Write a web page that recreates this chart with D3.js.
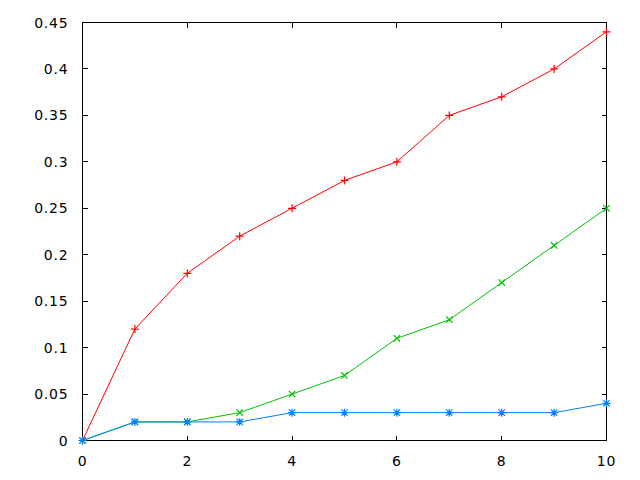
<!DOCTYPE html>
<html><head><meta charset="utf-8">
<script src="https://cdn.jsdelivr.net/npm/d3@7"></script>
<style>body{margin:0;background:#fff}svg{display:block}</style>
</head><body>
<script>
const xValues = [0,1,2,3,4,5,6,7,8,9,10];
const redValues = [0,0.12,0.18,0.22,0.25,0.28,0.30,0.35,0.37,0.40,0.44];
const greenValues = [0,0.02,0.02,0.03,0.05,0.07,0.11,0.13,0.17,0.21,0.25];
const blueValues = [0,0.02,0.02,0.02,0.03,0.03,0.03,0.03,0.03,0.03,0.04];
const xTicks = [0,2,4,6,8,10];
const yTicks = [0,0.05,0.1,0.15,0.2,0.25,0.3,0.35,0.4,0.45];
const yTickLabels = ["0","0.05","0.1","0.15","0.2","0.25","0.3","0.35","0.4","0.45"];

const W=640,H=480;
const L=82.5,R=606.5,T=22.5,B=440.5;
const svg=d3.select("body").append("svg").attr("width",W).attr("height",H);
const x=d3.scaleLinear().domain([0,10]).range([L,R]);
const y=d3.scaleLinear().domain([0,0.45]).range([B,T]);
const font="DejaVu Sans, sans-serif";
const tl=5;

// ticks
const g=svg.append("g").attr("stroke","#000").attr("stroke-width",1).attr("shape-rendering","crispEdges");
yTicks.forEach(v=>{
  g.append("line").attr("x1",L).attr("x2",L+tl).attr("y1",y(v)).attr("y2",y(v));
  g.append("line").attr("x1",R).attr("x2",R-tl).attr("y1",y(v)).attr("y2",y(v));
});
xTicks.forEach(v=>{
  g.append("line").attr("x1",x(v)).attr("x2",x(v)).attr("y1",B).attr("y2",B-tl);
  g.append("line").attr("x1",x(v)).attr("x2",x(v)).attr("y1",T).attr("y2",T+tl);
});
g.append("rect").attr("x",L).attr("y",T).attr("width",R-L).attr("height",B-T).attr("fill","none");

// labels
yTicks.forEach((v,i)=>{
  svg.append("text").attr("x",L-14).attr("y",y(v)).attr("dy","0.36em")
    .attr("text-anchor","end").attr("font-family",font).attr("font-size",14)
    .attr("letter-spacing","0.8px").text(yTickLabels[i]);
});
xTicks.forEach(v=>{
  svg.append("text").attr("x",x(v)).attr("y",466)
    .attr("text-anchor","middle").attr("font-family",font).attr("font-size",14)
    .attr("letter-spacing","0.8px").text(String(v));
});

const line=d3.line().x((d,i)=>x(xValues[i])).y(d=>y(d));
const s=4;
function drawSeries(vals,color,type){
  svg.append("path").datum(vals).attr("d",line).attr("fill","none").attr("stroke",color).attr("stroke-width",1);
  const mg=svg.append("g").attr("stroke",color).attr("stroke-width",1.2);
  vals.forEach((v,i)=>{
    const cx=x(xValues[i]),cy=y(v);
    let d="";
    if(type==="plus"||type==="star") d+=`M${cx-s},${cy}H${cx+s}M${cx},${cy-s}V${cy+s}`;
    if(type==="cross"||type==="star") d+=`M${cx-s*0.8},${cy-s*0.8}L${cx+s*0.8},${cy+s*0.8}M${cx-s*0.8},${cy+s*0.8}L${cx+s*0.8},${cy-s*0.8}`;
    mg.append("path").attr("d",d);
  });
}
drawSeries(redValues,"#ff0000","plus");
drawSeries(greenValues,"#00c000","cross");
drawSeries(blueValues,"#0080ff","star");
</script>
</body></html>
